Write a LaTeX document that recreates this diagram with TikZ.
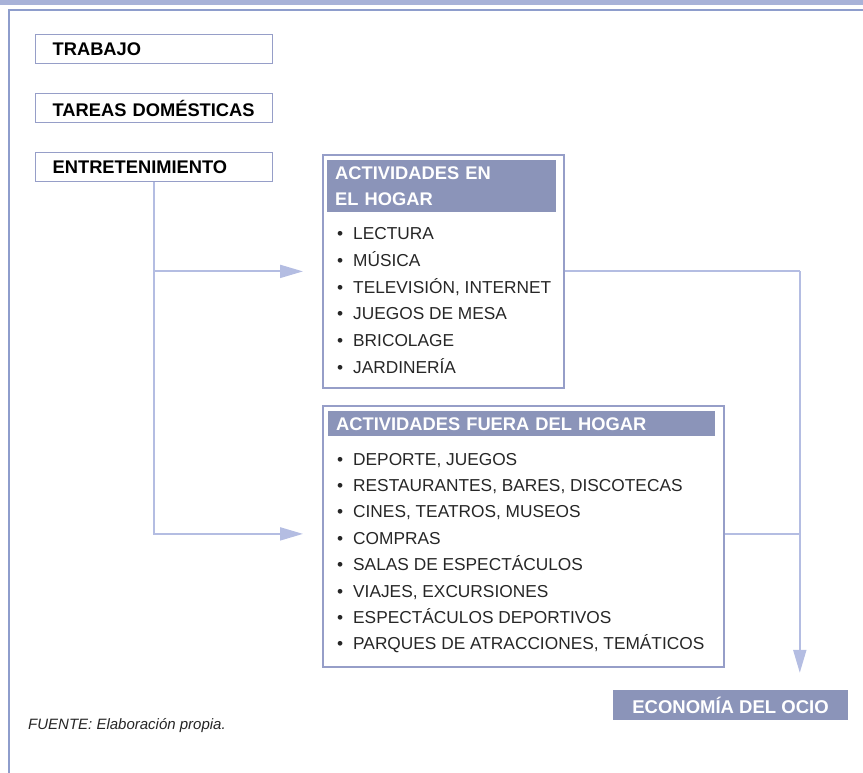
\documentclass[tikz,border=0pt]{standalone}
\usepackage{fontspec}
\setmainfont{Liberation Sans}
\usetikzlibrary{positioning,arrows.meta}
\definecolor{bandblue}{RGB}{168,178,216}
\definecolor{frameblue}{RGB}{142,157,204}
\definecolor{boxblue}{RGB}{150,158,200}
\definecolor{lineblue}{RGB}{180,189,226}
\definecolor{headblue}{RGB}{139,148,185}

\begin{document}
\begin{tikzpicture}
[x=1pt, y=-1pt,
sidebox/.style={rectangle, draw=boxblue, line width=1.3pt, anchor=north west, minimum width=237pt, minimum height=29pt, inner xsep=17pt, text width=203pt, align=left, font=\bfseries\fontsize{18.3}{20}\selectfont},
listbox/.style={rectangle, draw=boxblue, line width=1.8pt, anchor=north west},
headbox/.style={rectangle, fill=headblue, anchor=north west, inner xsep=8pt, align=left, text=white, font=\bfseries\fontsize{18.3}{26}\selectfont},
itemnode/.style={anchor=base west, inner sep=0pt, text=black!85, font=\fontsize{17.3}{20}\selectfont},
wire/.style={draw=lineblue, line width=2pt},
arrowwire/.style={wire, -{Triangle[length=23pt,width=13pt]}},
]
\useasboundingbox (0,0) rectangle (863,773);
% frame
\fill[bandblue] (0,0) rectangle (863,5);
\draw[frameblue, line width=2pt] (863,10.5) -- (9,10.5) -- (9,773);

\node[sidebox] (trabajo) at (35,34) {TRABAJO};
\node[sidebox] (tareas) at (35,93) {TAREAS DOMÉSTICAS};
\node[sidebox] (ent) at (35,152) {ENTRETENIMIENTO};

% en el hogar
\node[listbox, minimum width=241pt, minimum height=233pt] (hogar) at (322,154) {};
\node[headbox, minimum width=229pt, minimum height=52pt, text width=213pt] (hogarhead) at (327,160) {ACTIVIDADES EN\\EL HOGAR};
\foreach \txt [count=\i] in {LECTURA, MÚSICA, {TELEVISIÓN, INTERNET}, JUEGOS DE MESA, BRICOLAGE, JARDINERÍA}
  \node[itemnode] (hogar\i) at (337,{240+(\i-1)*26.6}) {\makebox[16pt][l]{\textbullet}\txt};

% fuera del hogar
\node[listbox, minimum width=401pt, minimum height=261pt] (fuera) at (322,405) {};
\node[headbox, minimum width=387pt, minimum height=25pt, text width=371pt] (fuerahead) at (328,411) {ACTIVIDADES FUERA DEL HOGAR};
\foreach \txt [count=\i] in {{DEPORTE, JUEGOS}, {RESTAURANTES, BARES, DISCOTECAS}, {CINES, TEATROS, MUSEOS}, COMPRAS, SALAS DE ESPECTÁCULOS, {VIAJES, EXCURSIONES}, ESPECTÁCULOS DEPORTIVOS, {PARQUES DE ATRACCIONES, TEMÁTICOS}}
  \node[itemnode] (fuera\i) at (337,{465+(\i-1)*26.4}) {\makebox[16pt][l]{\textbullet}\txt};

\node[rectangle, fill=headblue, minimum width=235pt, minimum height=30pt, text=white, font=\bfseries\fontsize{18.5}{20}\selectfont] (ocio) at (730.5,705) {ECONOMÍA DEL OCIO};

\node[anchor=base west, inner sep=0pt, text=black!85, font=\itshape\fontsize{15}{18}\selectfont] (fuente) at (28,729) {FUENTE: Elaboración propia.};

% connectors
\draw[arrowwire, shorten >=19pt] (ent.south) |- (hogar.west);
\draw[arrowwire, shorten >=19pt] (ent.south) |- ([yshift=2.5pt]fuera.west);
\coordinate (join) at ([xshift=235pt]hogar.east);
\draw[wire] (hogar.east) -- (join);
\draw[wire] ([yshift=2.5pt]fuera.east) -- ([yshift=2.5pt]fuera.east -| join);
\draw[arrowwire, shorten >=17pt] (join) -- (join |- ocio.north);
\end{tikzpicture}
\end{document}
